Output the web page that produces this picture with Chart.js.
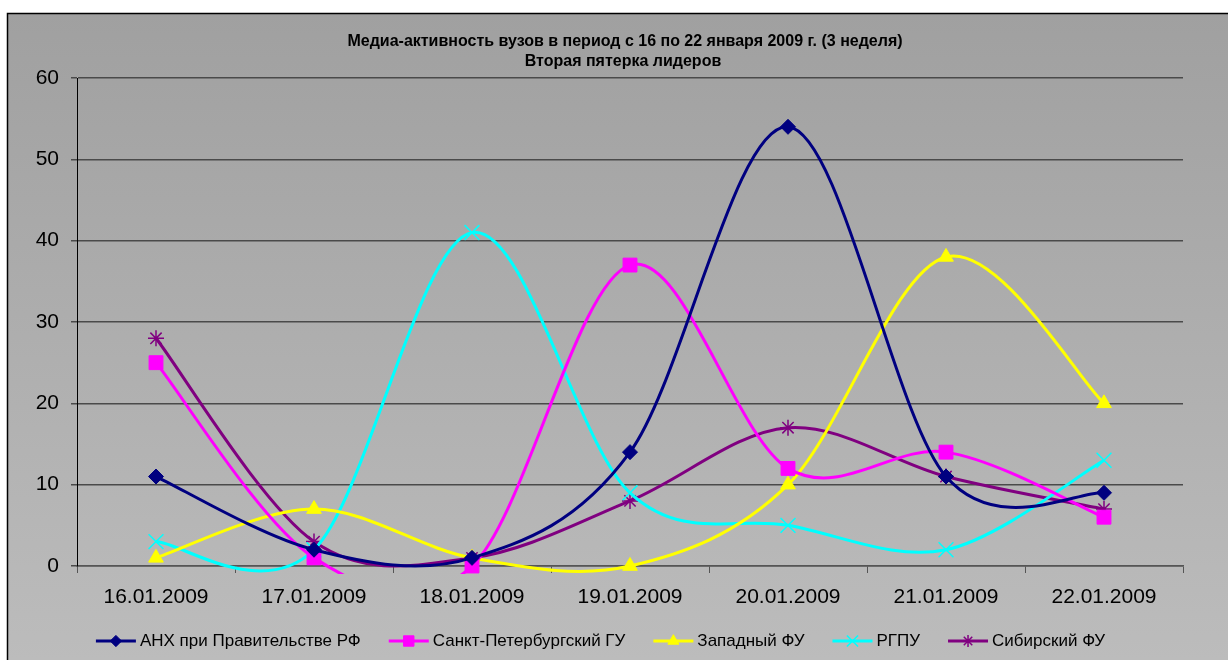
<!DOCTYPE html>
<html><head><meta charset="utf-8">
<script src="https://cdn.jsdelivr.net/npm/chart.js@4.4.0/dist/chart.umd.min.js"></script>
<style>html,body{margin:0;padding:0;background:#fff;overflow:hidden}</style>
</head><body>
<canvas id="c" width="1228" height="660" style="display:block;width:1228px;height:660px"></canvas>
<script>
const categories = ['16.01.2009','17.01.2009','18.01.2009','19.01.2009','20.01.2009','21.01.2009','22.01.2009'];
const titleLines = ['Медиа-активность вузов в период с 16 по 22 января 2009 г. (3 неделя)', 'Вторая пятерка лидеров'];
const seriesNames = ['АНХ при Правительстве РФ','Санкт-Петербургский ГУ','Западный ФУ','РГПУ','Сибирский ФУ'];
const anhValues = [11, 2, 1, 14, 54, 11, 9];
const spbguValues = [25, 1, 0, 37, 12, 14, 6];
const zapfuValues = [1, 7, 1, 0, 10, 38, 20];
const rgpuValues = [3, 2, 41, 9, 5, 2, 13];
const sibfuValues = [28, 3, 1, 8, 17, 11, 7];
const yTicks = [0, 10, 20, 30, 40, 50, 60];

const FONT = '"Liberation Sans", Arial, sans-serif';
const styles = [
  {color:'#000080', pointStyle:'rectRot', radius:7.5},
  {color:'#FF00FF', pointStyle:'rect', radius:9.8},
  {color:'#FFFF00', pointStyle:'triangle', radius:8.5},
  {color:'#00FFFF', pointStyle:'crossRot', radius:10.5},
  {color:'#800080', pointStyle:'star', radius:8}
];
const valueSets = [anhValues, spbguValues, zapfuValues, rgpuValues, sibfuValues];

const datasets = valueSets.map((vals, i) => ({
  label: seriesNames[i],
  data: vals,
  borderColor: styles[i].color,
  backgroundColor: styles[i].color,
  pointBackgroundColor: styles[i].color,
  pointBorderColor: styles[i].color,
  pointStyle: styles[i].pointStyle,
  pointRadius: styles[i].radius,
  pointBorderWidth: (styles[i].pointStyle === 'crossRot' || styles[i].pointStyle === 'star') ? 1.5 : 1,
  borderWidth: 3,
  tension: 0.4,
  fill: false,
  clip: {left: 10, top: 10, right: 10, bottom: 8}
}));

// Excel-style smoothing of the bezier control points (positions come from the chart's scales)
const smoothPlugin = {
  id: 'excelSmooth',
  beforeDatasetsDraw(chart) {
    chart.data.datasets.forEach((d, di) => {
      const meta = chart.getDatasetMeta(di);
      const line = meta.dataset;
      if (!line) return;
      line.updateControlPoints(chart.chartArea, 'x');
      const pts = meta.data;
      const n = pts.length;
      const dist = (a, b) => Math.hypot(b.x - a.x, b.y - a.y);
      for (let i = 0; i < n - 1; i++) {
        const P0 = pts[i - 1] || pts[i];
        const P1 = pts[i];
        const P2 = pts[i + 1];
        const P3 = pts[i + 2] || pts[i + 1];
        const d12 = dist(P1, P2), d02 = dist(P0, P2), d13 = dist(P1, P3);
        let f = 1 / 6, g = 1 / 6;
        if (d02 / 6 >= d12 / 2 && d02 > 0) f = d12 / (2 * d02);
        if (d13 / 6 >= d12 / 2 && d13 > 0) g = d12 / (2 * d13);
        P1.cp2x = P1.x + (P2.x - P0.x) * f;
        P1.cp2y = P1.y + (P2.y - P0.y) * f;
        P2.cp1x = P2.x - (P3.x - P1.x) * g;
        P2.cp1y = P2.y - (P3.y - P1.y) * g;
      }
      if (n) { pts[0].cp1x = pts[0].x; pts[0].cp1y = pts[0].y; pts[n-1].cp2x = pts[n-1].x; pts[n-1].cp2y = pts[n-1].y; }
    });
  }
};

const bgPlugin = {
  id: 'bg',
  beforeDraw(chart) {
    const ctx = chart.ctx;
    ctx.save();
    ctx.fillStyle = '#ffffff';
    ctx.fillRect(0, 0, chart.width, chart.height);
    const g = ctx.createLinearGradient(0, 13, 0, 660);
    g.addColorStop(0, '#a0a0a0');
    g.addColorStop(1, '#bcbcbc');
    ctx.fillStyle = g;
    ctx.fillRect(7, 13, chart.width, chart.height);
    ctx.strokeStyle = '#000';
    ctx.lineWidth = 1.5;
    ctx.beginPath();
    ctx.moveTo(7.5, chart.height + 2);
    ctx.lineTo(7.5, 13.5);
    ctx.lineTo(chart.width + 2, 13.5);
    ctx.stroke();
    ctx.restore();
  }
};

const decoPlugin = {
  id: 'deco',
  afterDraw(chart) {
    const ctx = chart.ctx;
    ctx.save();
    // title
    ctx.fillStyle = '#000';
    ctx.font = 'bold 16px ' + FONT;
    ctx.textAlign = 'center';
    ctx.textBaseline = 'middle';
    ctx.fillText(titleLines[0], 625, 42);
    ctx.fillText(titleLines[1], 623, 62);
    // legend
    ctx.font = '17px ' + FONT;
    const sample = 40, gapText = 4, gapItem = 28;
    const widths = chart.data.datasets.map(d => ctx.measureText(d.label).width);
    let total = 0;
    widths.forEach((w, i) => { total += sample + gapText + w + (i < widths.length - 1 ? gapItem : 0); });
    let x = 600.5 - total / 2;
    const y = 641;
    chart.data.datasets.forEach((d, i) => {
      ctx.strokeStyle = d.borderColor;
      ctx.lineWidth = 3;
      ctx.beginPath();
      ctx.moveTo(x, y);
      ctx.lineTo(x + sample, y);
      ctx.stroke();
      ctx.fillStyle = d.pointBackgroundColor;
      ctx.strokeStyle = d.pointBorderColor;
      ctx.lineWidth = d.pointBorderWidth;
      Chart.helpers.drawPoint(ctx, {pointStyle: d.pointStyle, radius: d.pointRadius * 0.75, rotation: 0, borderWidth: d.pointBorderWidth}, x + sample / 2, y);
      ctx.fillStyle = '#000';
      ctx.textAlign = 'left';
      ctx.fillText(d.label, x + sample + gapText, y);
      x += sample + gapText + widths[i] + gapItem;
    });
    ctx.restore();
  }
};

new Chart(document.getElementById('c'), {
  type: 'line',
  data: { labels: categories, datasets },
  options: {
    responsive: false,
    devicePixelRatio: 1,
    animation: false,
    elements: { line: { capBezierPoints: false } },
    layout: { padding: { left: 0, right: 45, top: 78, bottom: 0 } },
    plugins: { legend: { display: false }, title: { display: false }, tooltip: { enabled: false } },
    scales: {
      x: {
        offset: true,
        grid: { offset: true, drawOnChartArea: false, drawTicks: true, tickLength: 7, color: '#555', lineWidth: 1 },
        border: { display: true, color: '#555', width: 1.5 },
        ticks: { color: '#000', font: { family: FONT, size: 21 }, padding: 12, maxRotation: 0, autoSkip: false },
        afterFit(s) { s.height = 94; }
      },
      y: {
        min: 0, max: 60,
        afterBuildTicks(s) { s.ticks = yTicks.map(v => ({ value: v })); },
        grid: { color: '#4a4a4a', lineWidth: 1.5, tickLength: 6, drawTicks: true },
        border: { display: true, color: '#000', width: 1 },
        ticks: { color: '#000', font: { family: FONT, size: 21 }, padding: 12 },
        afterFit(s) { s.width = 77; }
      }
    }
  },
  plugins: [bgPlugin, smoothPlugin, decoPlugin]
});
</script>
</body></html>
